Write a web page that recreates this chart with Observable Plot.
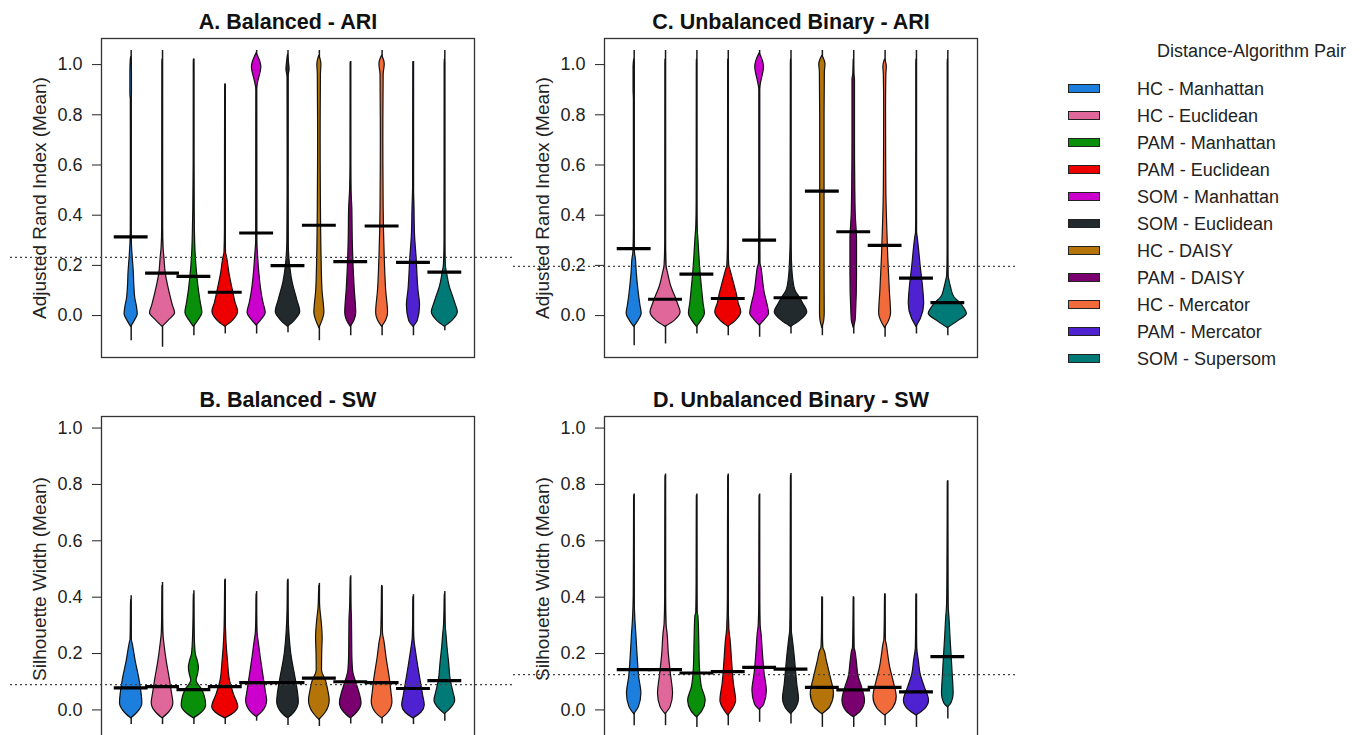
<!DOCTYPE html>
<html>
<head>
<meta charset="utf-8">
<script src="https://cdn.jsdelivr.net/npm/d3@7"></script>
<script src="https://cdn.jsdelivr.net/npm/@observablehq/plot@0.6"></script>
<style>
  html, body { margin: 0; padding: 0; background: #fff; overflow: hidden; width: 1366px; height: 735px; }
  #root { position: relative; width: 1366px; height: 735px; font-family: "Liberation Sans", Arial, sans-serif; color: #222; }
  .panel { position: absolute; width: 510px; }
  .panel svg { overflow: visible; }
  #legend { position: absolute; left: 0; top: 0; }
  .lg-title { position: absolute; left: 1157px; top: 42px; font-size: 18px; line-height: 18px; white-space: nowrap; }
  .lg-sw { position: absolute; left: 1068px; width: 30px; height: 7px; border: 1px solid #222; }
  .lg-lab { position: absolute; left: 1137px; font-size: 18px; line-height: 18px; white-space: nowrap; }
</style>
</head>
<body>
<div id="root"><div id="legend"></div></div>
<script>
// Distance–algorithm pairs and their fill colours
const pairs = ["HC - Manhattan", "HC - Euclidean", "PAM - Manhattan", "PAM - Euclidean",
  "SOM - Manhattan", "SOM - Euclidean", "HC - DAISY", "PAM - DAISY",
  "HC - Mercator", "PAM - Mercator", "SOM - Supersom"];
const colors = ["#1C7EDD", "#E0679A", "#0A8F0A", "#EE0000", "#CC00CC", "#232A2D",
  "#B5740A", "#7A0070", "#F26B3A", "#4E22D0", "#007A76"];
const yTicks = [0, 0.2, 0.4, 0.6, 0.8, 1.0];

// Violin outlines: [value, half-width in category units], bottom to top
const ariBalancedShapes = [
  [[-0.045,0],[-0.02,0.12],[0.005,0.21],[0.03,0.19],[0.07,0.13],[0.12,0.1],[0.17,0.085],[0.23,0.05],[0.28,0.025],[0.35,0.012],[0.7,0.01],[0.86,0.012],[0.88,0.025],[0.97,0.025],[1.02,0.012],[1.03,0]],
  [[-0.045,0],[-0.02,0.2],[0.01,0.4],[0.04,0.33],[0.1,0.21],[0.17,0.1],[0.23,0.06],[0.27,0.03],[0.35,0.012],[0.55,0.01],[1.0,0.005],[1.02,0]],
  [[-0.045,0],[-0.02,0.14],[0.01,0.27],[0.05,0.22],[0.1,0.16],[0.19,0.085],[0.26,0.05],[0.35,0.03],[0.42,0.02],[0.6,0.008],[1.0,0.005],[1.02,0]],
  [[-0.045,0],[-0.02,0.25],[0.015,0.41],[0.05,0.33],[0.09,0.26],[0.17,0.13],[0.23,0.06],[0.25,0.025],[0.35,0.01],[0.66,0.008],[0.9,0.004],[0.92,0]],
  [[-0.04,0],[-0.015,0.17],[0.01,0.29],[0.05,0.22],[0.09,0.16],[0.17,0.085],[0.23,0.05],[0.3,0.015],[0.9,0.01],[0.93,0.05],[0.99,0.15],[1.035,0.04],[1.045,0]],
  [[-0.045,0],[-0.02,0.22],[0.015,0.39],[0.06,0.3],[0.13,0.15],[0.22,0.05],[0.3,0.02],[0.5,0.012],[0.95,0.015],[0.98,0.05],[1.02,0.02],[1.04,0]],
  [[-0.05,0],[-0.02,0.1],[0.01,0.16],[0.1,0.1],[0.23,0.07],[0.43,0.05],[0.7,0.04],[0.96,0.05],[1.0,0.065],[1.025,0.03],[1.035,0]],
  [[-0.045,0],[-0.02,0.12],[0.01,0.175],[0.1,0.13],[0.17,0.1],[0.3,0.065],[0.43,0.05],[0.5,0.02],[0.6,0.008],[1.0,0.004],[1.01,0]],
  [[-0.045,0],[-0.02,0.13],[0.01,0.19],[0.1,0.13],[0.23,0.085],[0.43,0.05],[0.7,0.04],[0.96,0.05],[1.0,0.085],[1.025,0.04],[1.035,0]],
  [[-0.045,0],[-0.02,0.14],[0.04,0.21],[0.1,0.16],[0.23,0.1],[0.32,0.05],[0.43,0.03],[0.51,0.012],[0.8,0.008],[1.0,0.004],[1.01,0]],
  [[-0.045,0],[-0.02,0.25],[0.013,0.415],[0.05,0.33],[0.073,0.27],[0.113,0.16],[0.166,0.075],[0.2,0.03],[0.3,0.01],[1.0,0.006],[1.02,0]]
];
const ariBalancedLow  = [-0.1, -0.126, -0.08, -0.073, -0.073, -0.068, -0.1, -0.08, -0.08, -0.08, -0.06];
const ariBalancedHigh = [1.056, 1.056, 1.022, 0.923, 1.056, 1.056, 1.056, 1.012, 1.056, 1.012, 1.056];
const ariBalancedMean = [0.314, 0.169, 0.156, 0.093, 0.329, 0.199, 0.36, 0.215, 0.357, 0.212, 0.173];
const ariBalancedOverall = 0.232;

const ariUnbalancedShapes = [
  [[-0.045,0],[-0.02,0.14],[0.007,0.24],[0.04,0.2],[0.086,0.15],[0.166,0.085],[0.23,0.05],[0.25,0.025],[0.35,0.01],[0.86,0.01],[0.9,0.02],[0.99,0.02],[1.02,0]],
  [[-0.045,0],[-0.02,0.3],[0.013,0.48],[0.045,0.4],[0.073,0.32],[0.113,0.19],[0.166,0.085],[0.2,0.03],[0.3,0.01],[1.0,0.005],[1.02,0]],
  [[-0.045,0],[-0.02,0.15],[0.007,0.255],[0.05,0.21],[0.086,0.18],[0.166,0.12],[0.246,0.075],[0.3,0.05],[0.355,0.02],[0.45,0.008],[1.0,0.004],[1.02,0]],
  [[-0.045,0],[-0.02,0.25],[0.013,0.415],[0.05,0.33],[0.086,0.27],[0.139,0.16],[0.179,0.075],[0.2,0.03],[0.3,0.01],[1.0,0.004],[1.02,0]],
  [[-0.04,0],[-0.015,0.18],[0.007,0.3],[0.05,0.24],[0.086,0.17],[0.166,0.085],[0.19,0.06],[0.21,0.02],[0.4,0.01],[0.9,0.01],[0.93,0.05],[0.99,0.14],[1.035,0.04],[1.045,0]],
  [[-0.045,0],[-0.02,0.3],[0.013,0.52],[0.045,0.4],[0.07,0.29],[0.1,0.14],[0.15,0.065],[0.22,0.03],[0.3,0.012],[1.0,0.005],[1.02,0]],
  [[-0.05,0],[-0.02,0.06],[0.01,0.075],[0.2,0.07],[0.5,0.07],[0.8,0.07],[0.97,0.08],[1.0,0.1],[1.02,0.06],[1.035,0]],
  [[-0.05,0],[-0.02,0.06],[0.01,0.075],[0.166,0.105],[0.3,0.105],[0.4,0.065],[0.5,0.05],[0.7,0.04],[0.94,0.04],[0.96,0.015],[1.0,0.005],[1.02,0]],
  [[-0.05,0],[-0.02,0.13],[0.007,0.19],[0.1,0.15],[0.233,0.1],[0.365,0.065],[0.5,0.04],[0.83,0.03],[0.96,0.04],[0.99,0.055],[1.01,0.03],[1.02,0]],
  [[-0.045,0],[-0.01,0.15],[0.046,0.245],[0.113,0.21],[0.19,0.14],[0.272,0.075],[0.31,0.04],[0.33,0.015],[0.4,0.008],[1.0,0.004],[1.02,0]],
  [[-0.05,0],[-0.025,0.3],[0.007,0.61],[0.03,0.52],[0.046,0.43],[0.073,0.21],[0.113,0.1],[0.14,0.05],[0.16,0.02],[0.25,0.008],[1.0,0.004],[1.02,0]]
];
const ariUnbalancedLow  = [-0.12, -0.113, -0.073, -0.08, -0.086, -0.073, -0.08, -0.073, -0.086, -0.073, -0.08];
const ariUnbalancedHigh = [1.056, 1.056, 1.056, 1.056, 1.056, 1.056, 1.056, 1.056, 1.056, 1.056, 1.056];
const ariUnbalancedMean = [0.267, 0.065, 0.165, 0.068, 0.301, 0.071, 0.496, 0.334, 0.28, 0.149, 0.052];
const ariUnbalancedOverall = 0.196;

const swBalancedShapes = [
  [[-0.03,0],[-0.01,0.2],[0.024,0.356],[0.06,0.33],[0.104,0.27],[0.175,0.14],[0.234,0.05],[0.25,0.02],[0.3,0.012],[0.38,0.005],[0.39,0]],
  [[-0.03,0],[-0.01,0.2],[0.024,0.345],[0.06,0.3],[0.104,0.24],[0.175,0.13],[0.234,0.06],[0.27,0.025],[0.33,0.012],[0.43,0.004],[0.44,0]],
  [[-0.03,0],[-0.01,0.25],[0.016,0.39],[0.07,0.27],[0.104,0.085],[0.125,0.13],[0.15,0.16],[0.175,0.12],[0.198,0.06],[0.264,0.025],[0.33,0.012],[0.4,0.004],[0.41,0]],
  [[-0.03,0],[-0.01,0.3],[0.01,0.415],[0.057,0.27],[0.104,0.15],[0.175,0.085],[0.222,0.05],[0.28,0.025],[0.35,0.012],[0.45,0.004],[0.46,0]],
  [[-0.025,0],[-0.005,0.2],[0.033,0.335],[0.06,0.3],[0.104,0.24],[0.187,0.13],[0.246,0.06],[0.275,0.025],[0.33,0.01],[0.4,0.004],[0.41,0]],
  [[-0.03,0],[-0.01,0.2],[0.028,0.345],[0.06,0.32],[0.104,0.255],[0.198,0.105],[0.281,0.04],[0.35,0.015],[0.45,0.004],[0.46,0]],
  [[-0.035,0],[-0.01,0.2],[0.033,0.33],[0.07,0.28],[0.104,0.21],[0.139,0.085],[0.198,0.09],[0.257,0.105],[0.317,0.07],[0.364,0.025],[0.42,0.008],[0.44,0]],
  [[-0.03,0],[-0.01,0.2],[0.024,0.345],[0.06,0.28],[0.092,0.19],[0.139,0.075],[0.198,0.05],[0.317,0.04],[0.364,0.02],[0.45,0.005],[0.47,0]],
  [[-0.03,0],[-0.01,0.2],[0.028,0.33],[0.06,0.3],[0.104,0.255],[0.187,0.14],[0.246,0.07],[0.27,0.03],[0.35,0.012],[0.43,0.004],[0.44,0]],
  [[-0.03,0],[-0.01,0.25],[0.016,0.36],[0.05,0.31],[0.08,0.265],[0.163,0.14],[0.222,0.06],[0.252,0.025],[0.3,0.012],[0.39,0.004],[0.4,0]],
  [[-0.015,0],[0.0,0.15],[0.033,0.33],[0.06,0.28],[0.104,0.19],[0.163,0.14],[0.222,0.085],[0.27,0.05],[0.293,0.03],[0.35,0.012],[0.4,0.004],[0.41,0]]
];
const swBalancedLow  = [-0.052, -0.052, -0.052, -0.052, -0.04, -0.055, -0.059, -0.05, -0.05, -0.052, -0.04];
const swBalancedHigh = [0.405, 0.452, 0.423, 0.464, 0.42, 0.464, 0.449, 0.476, 0.44, 0.409, 0.42];
const swBalancedMean = [0.078, 0.083, 0.072, 0.083, 0.097, 0.097, 0.113, 0.1, 0.097, 0.076, 0.104];
const swBalancedOverall = 0.09;

const swUnbalancedShapes = [
  [[-0.015,0],[0.01,0.15],[0.057,0.23],[0.116,0.16],[0.199,0.105],[0.258,0.075],[0.317,0.04],[0.4,0.015],[0.45,0.012],[0.6,0.006],[0.75,0.003],[0.76,0]],
  [[-0.015,0],[0.01,0.16],[0.057,0.24],[0.128,0.17],[0.199,0.105],[0.27,0.065],[0.305,0.03],[0.4,0.012],[0.65,0.008],[0.82,0.003],[0.83,0]],
  [[-0.026,0],[-0.005,0.17],[0.033,0.28],[0.08,0.16],[0.152,0.095],[0.246,0.075],[0.33,0.05],[0.346,0.02],[0.45,0.01],[0.65,0.006],[0.75,0.003],[0.76,0]],
  [[-0.02,0],[0.005,0.16],[0.033,0.25],[0.092,0.18],[0.175,0.12],[0.246,0.075],[0.287,0.035],[0.4,0.012],[0.55,0.01],[0.82,0.003],[0.83,0]],
  [[0.0,0],[0.02,0.15],[0.068,0.23],[0.128,0.16],[0.199,0.105],[0.27,0.06],[0.299,0.03],[0.38,0.012],[0.45,0.01],[0.75,0.003],[0.76,0]],
  [[-0.015,0],[0.005,0.16],[0.039,0.255],[0.09,0.2],[0.139,0.16],[0.199,0.11],[0.258,0.05],[0.281,0.025],[0.4,0.012],[0.52,0.01],[0.82,0.003],[0.83,0]],
  [[-0.015,0],[0.01,0.25],[0.057,0.37],[0.116,0.265],[0.175,0.14],[0.21,0.07],[0.22,0.03],[0.28,0.012],[0.39,0.003],[0.4,0]],
  [[-0.026,0],[-0.005,0.23],[0.033,0.36],[0.08,0.265],[0.116,0.16],[0.175,0.095],[0.21,0.05],[0.22,0.025],[0.3,0.01],[0.39,0.003],[0.4,0]],
  [[-0.02,0],[0.005,0.25],[0.045,0.37],[0.104,0.265],[0.152,0.16],[0.199,0.095],[0.234,0.05],[0.246,0.025],[0.3,0.012],[0.4,0.003],[0.41,0]],
  [[-0.02,0],[0.0,0.25],[0.033,0.4],[0.08,0.265],[0.128,0.13],[0.175,0.075],[0.2,0.04],[0.22,0.02],[0.3,0.01],[0.4,0.003],[0.41,0]],
  [[0.009,0],[0.025,0.12],[0.057,0.186],[0.116,0.16],[0.175,0.13],[0.258,0.085],[0.33,0.05],[0.37,0.025],[0.45,0.015],[0.52,0.012],[0.7,0.005],[0.8,0.003],[0.81,0]]
];
const swUnbalancedLow  = [-0.056, -0.056, -0.062, -0.056, -0.044, -0.05, -0.062, -0.062, -0.056, -0.062, -0.032];
const swUnbalancedHigh = [0.766, 0.837, 0.766, 0.837, 0.766, 0.839, 0.4, 0.4, 0.411, 0.411, 0.813];
const swUnbalancedMean = [0.143, 0.143, 0.131, 0.136, 0.151, 0.145, 0.08, 0.071, 0.08, 0.064, 0.189];
const swUnbalancedOverall = 0.125;

const FONT = '"Liberation Sans", Arial, sans-serif';

function violinPanel({title, ylabel, shapes, low, high, mean, overall, yDomain, left, top, height}) {
  const outline = shapes.flatMap((shape, i) =>
    shape.map(([v, hw]) => ({pair: pairs[i], k: i + 1, v, x1: i + 1 - hw, x2: i + 1 + hw})));
  const stats = pairs.map((pair, i) => ({pair, k: i + 1, low: low[i], high: high[i], mean: mean[i]}));

  const svg = Plot.plot({
    width: 510,
    height,
    marginTop: 38, marginBottom: 13, marginLeft: 101, marginRight: 36,
    style: {fontFamily: FONT, fontSize: "18px", color: "#222", background: "transparent", overflow: "visible", maxWidth: "none"},
    x: {domain: [0.054, 11.946], axis: null},
    y: {domain: yDomain, ticks: yTicks, tickFormat: ".1f", tickSize: 9, tickPadding: 10, label: null},
    color: {domain: pairs, range: colors},
    marks: [
      Plot.frame({stroke: "#333", strokeWidth: 1.3}),
      // whiskers from min to max
      Plot.ruleX(stats, {x: "k", y1: "low", y2: "high", stroke: "#1a1a1a", strokeWidth: 1.5}),
      // violin bodies
      Plot.areaX(outline, {y: "v", x1: "x1", x2: "x2", z: "pair", fill: "pair", stroke: "#111", strokeWidth: 1.2, curve: "monotone-y"}),
      // overall mean, reaching past the frame
      Plot.ruleY([overall], {stroke: "#444", strokeWidth: 1.3, strokeDasharray: "2,3", insetLeft: -91, insetRight: -38}),
      // group means
      Plot.ruleY(stats, {y: "mean", x1: d => d.k - 0.54, x2: d => d.k + 0.54, stroke: "#000", strokeWidth: 3.2}),
      Plot.text([title], {frameAnchor: "top", lineAnchor: "bottom", dy: -10, fontSize: 21.5, fontWeight: "bold", fill: "#111"}),
      Plot.text([ylabel], {frameAnchor: "left", textAnchor: "middle", rotate: -90, dx: -62, fontSize: 19, fill: "#222"})
    ]
  });
  const div = document.createElement("div");
  div.className = "panel";
  div.style.left = left + "px";
  div.style.top = top + "px";
  div.appendChild(svg);
  document.getElementById("root").appendChild(div);
}

violinPanel({title: "A. Balanced - ARI", ylabel: "Adjusted Rand Index (Mean)",
  shapes: ariBalancedShapes, low: ariBalancedLow, high: ariBalancedHigh, mean: ariBalancedMean,
  overall: ariBalancedOverall, yDomain: [-0.167, 1.104], left: 0, top: 0, height: 370});
violinPanel({title: "C. Unbalanced Binary - ARI", ylabel: "Adjusted Rand Index (Mean)",
  shapes: ariUnbalancedShapes, low: ariUnbalancedLow, high: ariUnbalancedHigh, mean: ariUnbalancedMean,
  overall: ariUnbalancedOverall, yDomain: [-0.167, 1.104], left: 503, top: 0, height: 370});
violinPanel({title: "B. Balanced - SW", ylabel: "Silhouette Width (Mean)",
  shapes: swBalancedShapes, low: swBalancedLow, high: swBalancedHigh, mean: swBalancedMean,
  overall: swBalancedOverall, yDomain: [-0.112, 1.041], left: 0, top: 378, height: 376});
violinPanel({title: "D. Unbalanced Binary - SW", ylabel: "Silhouette Width (Mean)",
  shapes: swUnbalancedShapes, low: swUnbalancedLow, high: swUnbalancedHigh, mean: swUnbalancedMean,
  overall: swUnbalancedOverall, yDomain: [-0.112, 1.041], left: 503, top: 378, height: 376});

// Legend
const legend = document.getElementById("legend");
const lt = document.createElement("div");
lt.className = "lg-title";
lt.textContent = "Distance-Algorithm Pair";
legend.appendChild(lt);
pairs.forEach((p, i) => {
  const cy = 88.5 + 27 * i;
  const sw = document.createElement("div");
  sw.className = "lg-sw";
  sw.style.top = (cy - 4.5) + "px";
  sw.style.background = colors[i];
  legend.appendChild(sw);
  const lab = document.createElement("div");
  lab.className = "lg-lab";
  lab.style.top = (cy - 9) + "px";
  lab.textContent = p;
  legend.appendChild(lab);
});
</script>
</body>
</html>
